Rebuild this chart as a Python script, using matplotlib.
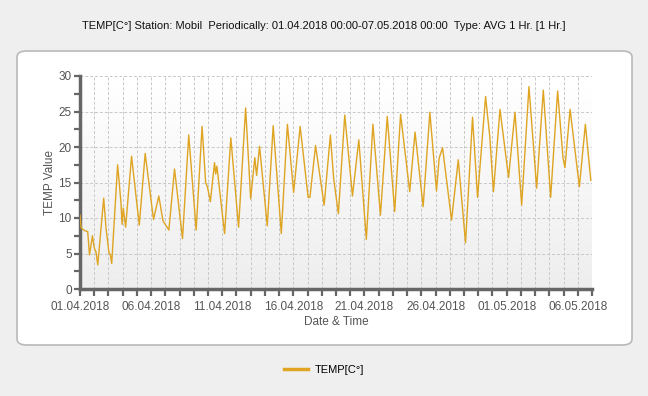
import numpy as np
import pandas as pd
import matplotlib
matplotlib.use("Agg")
import matplotlib.pyplot as plt
import matplotlib.dates as mdates
import matplotlib.ticker as mticker
from matplotlib.patches import FancyBboxPatch

# hourly temperature, turning points (hours since 01.04.2018 00:00)
hours = [0, 2, 8, 13, 16, 21, 24, 27, 30, 40, 44, 49, 51, 53.5, 63.5, 69, 71, 73, 77,
         87, 100, 110, 124, 133, 140, 150, 159.5, 173, 183.5, 196, 206, 212, 215, 220,
         227, 229, 231, 244, 254.5, 267.6, 279.5, 288, 295, 298, 303, 316, 326, 339.7,
         350, 360.5, 371.5, 385, 388, 397.5, 412, 422.5, 428, 431, 436, 446.8, 459.8,
         470.5, 483.2, 494.3, 507, 518.5, 531, 541, 556.4, 565.4, 579, 590.4, 601.6,
         606, 611.8, 627, 638.3, 650.6, 662.4, 670.9, 684.4, 691.6, 697.7, 708.7, 723.2,
         734, 745.3, 757.6, 770.6, 781.8, 794.2, 806, 815, 818.3, 827, 842.7, 852.8, 862]
temps = [10.4, 8.6, 8.2, 8.1, 4.8, 7.5, 5.8, 5.2, 3.4, 12.8, 8.5, 5.0, 4.9, 3.6, 17.5,
         12.3, 9.1, 11.4, 8.7, 18.7, 9.0, 19.1, 9.8, 13.1, 9.6, 8.3, 16.9, 7.1, 21.7, 8.3,
         22.9, 15.0, 14.4, 12.3, 17.8, 16.2, 17.3, 7.8, 21.3, 8.7, 25.5, 12.7, 18.5, 16.0,
         20.1, 8.9, 23.0, 7.8, 23.2, 13.6, 22.9, 12.9, 12.9, 20.2, 11.8, 21.7, 15.6, 13.7,
         10.6, 24.5, 13.1, 21.0, 7.0, 23.2, 10.4, 24.3, 10.9, 24.6, 13.7, 22.1, 11.6, 24.9,
         13.8, 18.4, 19.9, 9.7, 18.2, 6.5, 24.2, 12.9, 27.1, 21.4, 13.7, 25.3, 15.7, 24.9,
         11.8, 28.5, 14.2, 28.0, 12.9, 27.9, 18.5, 17.1, 25.3, 14.4, 23.2, 15.3]

start = pd.Timestamp("2018-04-01 00:00")
end = pd.Timestamp("2018-05-07 00:00")
times = start + pd.to_timedelta(hours, unit="h")

title = "TEMP[C°] Station: Mobil  Periodically: 01.04.2018 00:00-07.05.2018 00:00  Type: AVG 1 Hr. [1 Hr.]"
line_color = "#dea422"
grey = "#555555"

plt.rcParams["font.family"] = ["Liberation Sans", "DejaVu Sans"]

fig = plt.figure(figsize=(6.48, 3.96), dpi=100, facecolor="#efefef")

# white rounded panel behind the plot
W, H = 648.0, 396.0
panel = FancyBboxPatch((17 / W, 51 / H), 615 / W, 294 / H,
                       boxstyle="round,pad=0,rounding_size=0.015",
                       transform=fig.transFigure, facecolor="white",
                       edgecolor="#b9b9b9", linewidth=1.2, zorder=-5)
fig.patches.append(panel)

fig.text(0.5, 1 - 26 / H, title, ha="center", va="center", fontsize=8, color="#111111")

ax = fig.add_axes([80 / W, 1 - 289 / H, 512 / W, 213 / H])
ax.set_zorder(2)
ax.set_facecolor("none")

# soft vertical gradient in the plot area
grad = np.linspace(1.0, 0.93, 256).reshape(-1, 1)
ax.imshow(grad, cmap="gray", vmin=0, vmax=1, aspect="auto",
          extent=[mdates.date2num(start), mdates.date2num(end), 0, 30],
          origin="upper", zorder=0)

ax.plot(times, temps, color=line_color, linewidth=1.0, zorder=3)

ax.set_xlim(start, end)
ax.set_ylim(0, 30)

major_days = [start + pd.Timedelta(days=5 * k) for k in range(8)]
ax.xaxis.set_major_locator(mticker.FixedLocator(mdates.date2num(major_days)))
ax.xaxis.set_major_formatter(mdates.DateFormatter("%d.%m.%Y"))
ax.xaxis.set_minor_locator(mdates.DayLocator())
ax.yaxis.set_major_locator(mticker.MultipleLocator(5))
ax.yaxis.set_minor_locator(mticker.MultipleLocator(2.5))

ax.grid(True, which="both", axis="x", linestyle=(0, (3, 2)), color="#c8c8c8", linewidth=0.7)
ax.grid(True, which="major", axis="y", linestyle=(0, (3, 2)), color="#c8c8c8", linewidth=0.7)
ax.set_axisbelow(True)

for s in ["top", "right"]:
    ax.spines[s].set_visible(False)
for s in ["left", "bottom"]:
    ax.spines[s].set_color("#666666")
    ax.spines[s].set_linewidth(2.5)

ax.tick_params(axis="x", which="both", direction="out", length=5, width=1.6,
               color="#666666", labelsize=8.5, labelcolor=grey, pad=4)
ax.tick_params(axis="y", which="both", direction="out", length=4, width=1.6,
               color="#666666", labelsize=8.5, labelcolor=grey, pad=2)

ax.set_xlabel("Date & Time", fontsize=8.5, color=grey, labelpad=2)
ax.set_ylabel("TEMP Value", fontsize=8.5, color=grey, labelpad=2)

# legend below the panel
fig.legend([plt.Line2D([], [], color=line_color, linewidth=2.5)], ["TEMP[C°]"],
           loc="center", bbox_to_anchor=(0.5, 1 - 370 / H), frameon=False,
           fontsize=8, handlelength=2.2, handletextpad=0.6)

fig.savefig("out.png", dpi=100, facecolor=fig.get_facecolor())
